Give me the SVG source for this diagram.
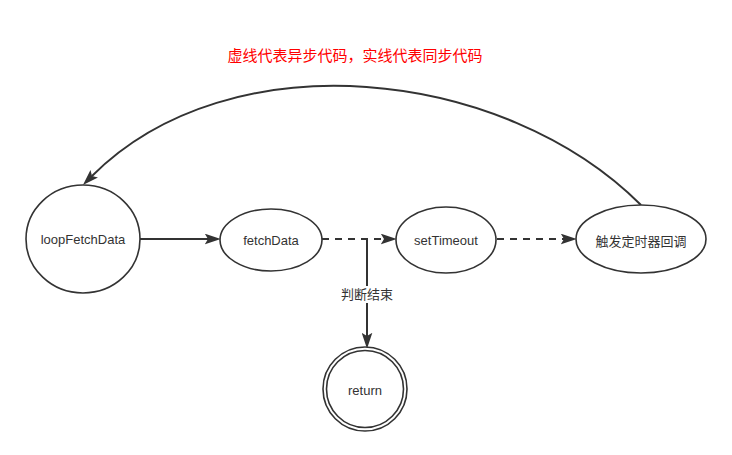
<svg xmlns="http://www.w3.org/2000/svg" width="732" height="455" viewBox="0 0 732 455">
<style>
.node{fill:#ffffff;stroke:#333333;stroke-width:1.6}
.edge{fill:none;stroke:#333333;stroke-width:2}
.dash{stroke-dasharray:7 6}
.lbl{font-family:"Liberation Sans","Noto Sans CJK SC",sans-serif;font-size:13px;fill:#333333;text-anchor:middle}
.title{font-family:"Liberation Sans","Noto Sans CJK SC",sans-serif;font-size:15px;fill:#ff0000;text-anchor:middle}
</style>
<defs>
<marker id="arr" markerUnits="userSpaceOnUse" markerWidth="16" markerHeight="11" viewBox="0 0 15 10" refX="3" refY="5" orient="auto">
<path d="M0,0 L15,5 L0,10 L3,5 Z" fill="#333333"/>
</marker>
</defs>
<rect width="732" height="455" fill="#ffffff"/>
<text class="title" x="355" y="61">虚线代表异步代码，实线代表同步代码</text>
<g id="connectors">
<path class="edge" d="M140,239 L208,239" marker-end="url(#arr)"/>
<path class="edge dash" d="M322,239 L384,239" marker-end="url(#arr)"/>
<path class="edge dash" d="M497,239 L564,239" marker-end="url(#arr)"/>
<path class="edge" d="M367,239 L367,336" marker-end="url(#arr)"/>
<path class="edge" d="M641,205 C503,67 230,38 92,176" marker-end="url(#arr)"/>
<rect x="340" y="286" width="54" height="17" fill="#ffffff"/>
<text class="lbl" x="367" y="299">判断结束</text>
</g>
<g id="loopFetchData">
<ellipse class="node" cx="83" cy="239" rx="57" ry="54"/>
<text class="lbl" x="83" y="244">loopFetchData</text>
</g>
<g id="fetchData">
<ellipse class="node" cx="271" cy="240" rx="51" ry="31"/>
<text class="lbl" x="271" y="245">fetchData</text>
</g>
<g id="setTimeout">
<ellipse class="node" cx="446" cy="240" rx="50" ry="33"/>
<text class="lbl" x="446" y="245">setTimeout</text>
</g>
<g id="trigger">
<ellipse class="node" cx="641" cy="239" rx="65" ry="34"/>
<text class="lbl" x="641" y="246">触发定时器回调</text>
</g>
<g id="return">
<circle class="node" cx="365" cy="389" r="42"/>
<circle class="node" cx="365" cy="389" r="38.5"/>
<text class="lbl" x="365" y="395">return</text>
</g>
</svg>
